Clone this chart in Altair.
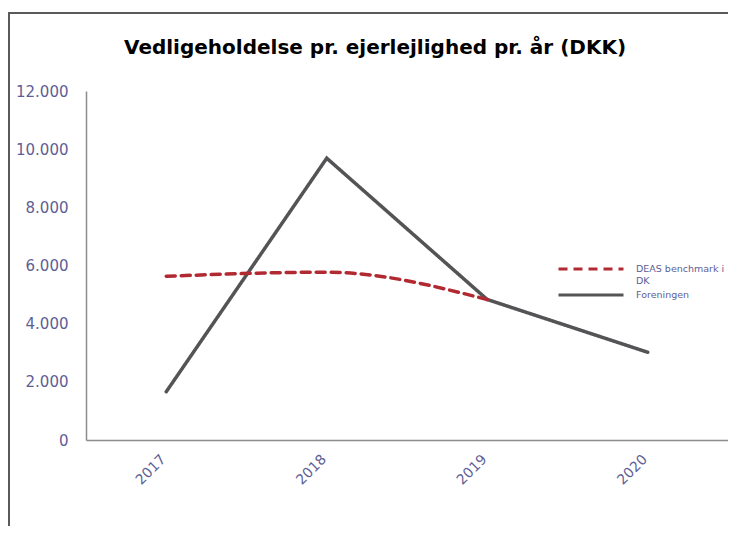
import altair as alt
import pandas as pd

years = ["2017", "2018", "2019", "2020"]
deas = [5630, 5770, 4830, None]
foreningen = [1660, 9690, 4830, 3015]
series_names = ["DEAS benchmark i DK", "Foreningen"]
y_ticks = [0, 2000, 4000, 6000, 8000, 10000, 12000]

rows = []
for yr, v in zip(years, deas):
    if v is not None:
        rows.append({"year": yr, "value": v, "series": series_names[0]})
for yr, v in zip(years, foreningen):
    rows.append({"year": yr, "value": v, "series": series_names[1]})
df = pd.DataFrame(rows)

LABEL = "#5E5E96"
FONT = "DejaVu Sans"

x_enc = alt.X("year:O", title=None,
              scale=alt.Scale(type="point", padding=0.5, domain=years),
              axis=alt.Axis(labelAngle=-45, labelFontSize=14, labelColor=LABEL,
                            labelFont=FONT, ticks=False, domainColor="#8C8C8C",
                            domainWidth=1.5, labelPadding=12, labelOffset=-8, grid=False))
y_enc = alt.Y("value:Q", title=None,
              scale=alt.Scale(domain=[0, 12000], nice=False),
              axis=alt.Axis(values=y_ticks, labelFontSize=15, labelColor=LABEL,
                            labelFont=FONT, ticks=False, domainColor="#8C8C8C",
                            domainWidth=1.5, labelPadding=18, grid=False,
                            labelExpr="replace(format(datum.value, ','), ',', '.')"))

color = alt.Color("series:N", title=None,
                  scale=alt.Scale(domain=series_names, range=["#B22A31", "#545457"]),
                  legend=alt.Legend(orient="none", legendX=495, legendY=168,
                                    symbolType="M-4,0L4,0", symbolSize=264,
                                    symbolStrokeWidth=3, labelFontSize=9.5,
                                    labelFont=FONT, labelColor=LABEL,
                                    labelOffset=35, rowPadding=0,
                                    labelExpr="datum.label == 'DEAS benchmark i DK' ? ['DEAS benchmark i', 'DK'] : datum.label"))
dash = alt.StrokeDash("series:N", title=None,
                      scale=alt.Scale(domain=series_names, range=[[9, 6], [1, 0]]),
                      legend=None)

deas_line = alt.Chart(df).transform_filter(
    alt.datum.series == series_names[0]
).mark_line(strokeWidth=3.5, strokeCap="round", interpolate="monotone").encode(
    x=x_enc, y=y_enc, color=color, strokeDash=dash
)
for_line = alt.Chart(df).transform_filter(
    alt.datum.series == series_names[1]
).mark_line(strokeWidth=3.5, strokeCap="round", strokeJoin="miter").encode(
    x=x_enc, y=y_enc, color=color, strokeDash=dash
)

frame_top = alt.Chart(pd.DataFrame({"a": [0]})).mark_rule(color="#5A5A5A", strokeWidth=2).encode(
    x=alt.value(-78), x2=alt.value(642), y=alt.value(-78)
)
frame_left = alt.Chart(pd.DataFrame({"a": [0]})).mark_rule(color="#5A5A5A", strokeWidth=2).encode(
    x=alt.value(-77), y=alt.value(-78), y2=alt.value(435)
)

chart = alt.layer(frame_top, frame_left, for_line, deas_line).properties(
    width=642, height=349,
    background="white",
    autosize=alt.AutoSizeParams(type="none"),
    padding={"left": 78, "top": 83, "right": 0, "bottom": 86},
    title=alt.Title("Vedligeholdelse pr. ejerlejlighed pr. år (DKK)",
                    font=FONT, fontSize=20, fontWeight="bold", color="#000000",
                    anchor="start", dx=117, offset=-62, baseline="alphabetic"),
).configure_view(stroke=None)

chart.save("out.html", embed_options={"renderer": "svg", "actions": False})
